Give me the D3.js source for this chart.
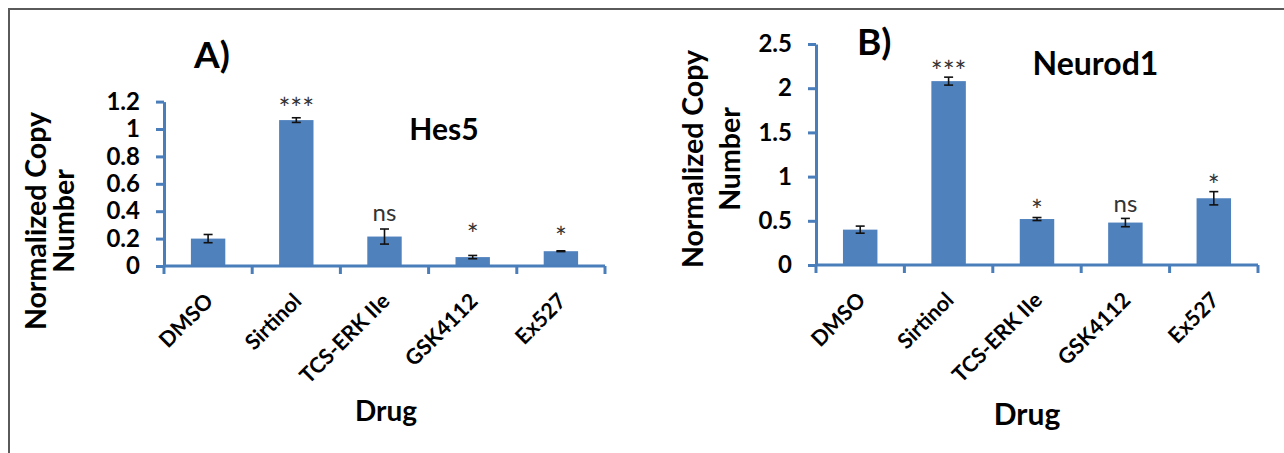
<!DOCTYPE html>
<html>
<head>
<meta charset="utf-8">
<script src="https://cdn.jsdelivr.net/npm/d3@7"></script>
<style>
  html, body { margin: 0; padding: 0; background: #fff; }
  svg { display: block; }
  text { font-family: Lato, "Open Sans", sans-serif; }
</style>
</head>
<body>
<svg id="fig" width="1284" height="453"></svg>
<script>
// Drug treatments (shared by both panels)
const categories = ["DMSO", "Sirtinol", "TCS-ERK IIe", "GSK4112", "Ex527"];

// Panel A: Hes5
const hes5Values = [0.20, 1.065, 0.215, 0.065, 0.108];
const hes5Errors = [0.03, 0.017, 0.055, 0.012, 0.003];
const hes5Marks = ["", "***", "ns", "*", "*"];
const hes5Ticks = [0, 0.2, 0.4, 0.6, 0.8, 1, 1.2];

// Panel B: Neurod1
const neurod1Values = [0.40, 2.08, 0.52, 0.48, 0.755];
const neurod1Errors = [0.04, 0.045, 0.017, 0.047, 0.075];
const neurod1Marks = ["", "***", "*", "ns", "*"];
const neurod1Ticks = [0, 0.5, 1, 1.5, 2, 2.5];

const BAR = "#4F81BD";
const AXIS = "#4A7EBB";

const svg = d3.select("#fig");
svg.append("rect").attr("width", 1284).attr("height", 453).attr("fill", "#fff");

// frame lines along the top and left edges
svg.append("line").attr("x1", 9).attr("x2", 1284).attr("y1", 9).attr("y2", 9)
  .attr("stroke", "#5a5a5a").attr("stroke-width", 2);
svg.append("line").attr("x1", 9).attr("x2", 9).attr("y1", 8).attr("y2", 453)
  .attr("stroke", "#5a5a5a").attr("stroke-width", 2);

function panel(opt) {
  const g = svg.append("g");
  const y = d3.scaleLinear().domain([0, opt.ticks[opt.ticks.length - 1]])
    .range([opt.y0, opt.y1]);
  const x = d3.scaleBand().domain(categories).range([opt.x0, opt.x1])
    .paddingInner(0.61).paddingOuter(0.305);
  const cx = i => x(categories[i]) + x.bandwidth() / 2;

  // bars
  g.selectAll("rect.bar").data(opt.values).join("rect")
    .attr("class", "bar")
    .attr("x", (d, i) => x(categories[i]))
    .attr("width", x.bandwidth())
    .attr("y", d => y(d))
    .attr("height", d => y(0) - y(d))
    .attr("fill", BAR);

  // error bars
  const eb = g.selectAll("g.err").data(opt.values).join("g").attr("class", "err")
    .attr("transform", (d, i) => `translate(${cx(i)},0)`);
  eb.append("line")
    .attr("y1", (d, i) => y(d + opt.errors[i])).attr("y2", (d, i) => y(d - opt.errors[i]))
    .attr("stroke", "#111").attr("stroke-width", 1.6);
  eb.append("line").attr("x1", -4.5).attr("x2", 4.5)
    .attr("y1", (d, i) => y(d + opt.errors[i])).attr("y2", (d, i) => y(d + opt.errors[i]))
    .attr("stroke", "#111").attr("stroke-width", 1.6);
  eb.append("line").attr("x1", -4.5).attr("x2", 4.5)
    .attr("y1", (d, i) => y(d - opt.errors[i])).attr("y2", (d, i) => y(d - opt.errors[i]))
    .attr("stroke", "#111").attr("stroke-width", 1.6);

  // significance marks, centred a little above each error bar
  g.selectAll("text.sig").data(opt.values).join("text")
    .attr("class", "sig")
    .attr("x", (d, i) => cx(i))
    .attr("y", (d, i) => y(d + opt.errors[i]) - opt.lift[i])
    .attr("text-anchor", "middle")
    .attr("font-size", (d, i) => opt.marks[i] === "ns" ? 24 : 28)
    .attr("fill", "#333")
    .attr("dy", (d, i) => opt.marks[i] === "ns" ? "0.25em" : "0.55em")
    .text((d, i) => opt.marks[i]);

  // y axis
  const yAxis = d3.axisLeft(y).tickValues(opt.ticks).tickFormat(d3.format("~g"))
    .tickSize(8).tickSizeOuter(0).tickPadding(16);
  const ya = g.append("g").attr("transform", `translate(${opt.x0},0)`).call(yAxis);
  ya.select(".domain").attr("stroke", AXIS).attr("stroke-width", 3);
  ya.selectAll(".tick line").attr("stroke", AXIS).attr("stroke-width", 3);
  ya.selectAll(".tick text").attr("font-size", 24).attr("font-weight", "bold")
    .attr("fill", "#000").style("font-family", "Lato, sans-serif");

  // x axis: baseline with tick marks at the category boundaries
  const edges = d3.range(categories.length + 1).map(i => opt.x0 + i * x.step());
  g.append("line").attr("x1", opt.x0).attr("x2", opt.x1)
    .attr("y1", y(0)).attr("y2", y(0)).attr("stroke", AXIS).attr("stroke-width", 3);
  g.selectAll("line.xt").data(edges).join("line").attr("class", "xt")
    .attr("x1", d => d).attr("x2", d => d)
    .attr("y1", y(0)).attr("y2", y(0) + 8)
    .attr("stroke", AXIS).attr("stroke-width", 3);

  // rotated category labels
  g.selectAll("text.cat").data(categories).join("text").attr("class", "cat")
    .attr("transform", (d, i) => `translate(${cx(i) + 6.5},${y(0) + 36.5}) rotate(-45)`)
    .attr("text-anchor", "end")
    .attr("font-size", 21.5).attr("font-weight", "bold")
    .text(d => d);

  // axis titles
  const yt = g.append("text").attr("text-anchor", "middle")
    .attr("transform", `translate(${opt.ytx},${opt.yty}) rotate(-90)`)
    .attr("font-size", 28.5).attr("font-weight", "bold");
  yt.append("tspan").attr("x", 0).attr("dy", 0).text("Normalized Copy");
  yt.append("tspan").attr("x", 0).attr("dy", opt.ytGap).text("Number");

  g.append("text").attr("x", opt.xtx).attr("y", opt.xty)
    .attr("text-anchor", "middle").attr("font-size", opt.xts).attr("font-weight", "bold")
    .text("Drug");

  // panel letter and gene name
  g.append("text").attr("x", opt.lx).attr("y", opt.ly)
    .attr("font-size", 37).attr("font-weight", "bold").text(opt.letter);
  g.append("text").attr("x", opt.gx).attr("y", opt.gy).attr("text-anchor", "middle")
    .attr("font-size", opt.gs).attr("font-weight", "bold").text(opt.gene);
}

panel({
  values: hes5Values, errors: hes5Errors, marks: hes5Marks, ticks: hes5Ticks,
  lift: [0, 14, 14, 26, 18],
  x0: 164, x1: 605, y0: 266, y1: 101.6,
  ytx: 46, yty: 221, ytGap: 28, xtx: 386, xty: 421, xts: 28,
  letter: "A)", lx: 194, ly: 68, gene: "Hes5", gx: 444, gy: 140, gs: 30
});

panel({
  values: neurod1Values, errors: neurod1Errors, marks: neurod1Marks, ticks: neurod1Ticks,
  lift: [0, 11, 11.5, 12, 11],
  x0: 816, x1: 1258, y0: 265, y1: 44,
  ytx: 703, yty: 159, ytGap: 37, xtx: 1027, xty: 425, xts: 30,
  letter: "B)", lx: 857, ly: 55, gene: "Neurod1", gx: 1095.5, gy: 75, gs: 32
});
</script>
</body>
</html>
